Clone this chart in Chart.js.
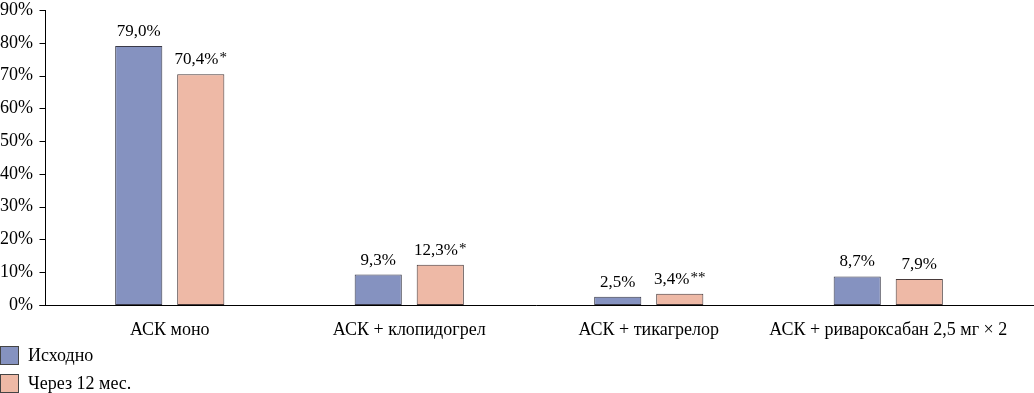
<!DOCTYPE html>
<html>
<head>
<meta charset="utf-8">
<script src="https://cdn.jsdelivr.net/npm/chart.js@4"></script>
<style>
  body { margin: 0; background: #fff; font-family: "Liberation Serif", serif; }
  #wrap { position: relative; width: 1034px; height: 393px; }
  #legend { position: absolute; left: 0; top: 341px; font-size: 18px; color: #000; }
  .item { display: flex; align-items: center; height: 28px; }
  .box { width: 17px; height: 17px; border: 1px solid #444; margin-right: 9px; }
</style>
</head>
<body>
<div id="wrap">
  <canvas id="chart" width="1034" height="345"></canvas>
  <div id="legend"></div>
</div>
<script>
const categories = ['АСК моно', 'АСК + клопидогрел', 'АСК + тикагрелор', 'АСК + ривароксабан 2,5 мг × 2'];
const seriesNames = ['Исходно', 'Через 12 мес.'];
const baseline = [79.0, 9.3, 2.5, 8.7];
const after12 = [70.4, 12.3, 3.4, 7.9];
const baselineMarks = ['', '', '', ''];
const after12Marks = ['*', '*', '**', ''];
const colors = ['#8592c0', '#eeb9a6'];

const fmt = v => v.toFixed(1).replace('.', ',') + '%';

// axis lines sit a few px left of the plot, like in the source figure
const axisLines = {
    id: 'axisLines',
    afterDraw(chart) {
        const { ctx, chartArea } = chart;
        const y = chart.scales.y;
        const ax = Math.round(chartArea.left - 5) + 0.5;
        const by = Math.round(chartArea.bottom) + 0.5;
        ctx.save();
        ctx.strokeStyle = '#000';
        ctx.lineWidth = 1;
        ctx.beginPath();
        ctx.moveTo(ax, chartArea.top);
        ctx.lineTo(ax, by);
        y.ticks.forEach(t => {
            const ty = Math.round(y.getPixelForValue(t.value)) + 0.5;
            ctx.moveTo(ax - 6, ty);
            ctx.lineTo(ax, ty);
        });
        ctx.moveTo(ax - 6, by);
        ctx.lineTo(chart.width, by);
        ctx.stroke();
        ctx.restore();
    }
};

const valueLabels = {
    id: 'valueLabels',
    afterDatasetsDraw(chart) {
        const ctx = chart.ctx;
        ctx.save();
        ctx.fillStyle = '#000';
        ctx.textBaseline = 'alphabetic';
        ctx.textAlign = 'left';
        chart.data.datasets.forEach((ds, i) => {
            chart.getDatasetMeta(i).data.forEach((bar, j) => {
                const txt = fmt(ds.data[j]);
                const mark = ds.marks[j];
                ctx.font = '17px "Liberation Serif"';
                const w = ctx.measureText(txt).width;
                ctx.font = '15px "Liberation Serif"';
                const mw = mark ? ctx.measureText(mark).width + 1 : 0;
                const x0 = bar.x - (w + mw) / 2;
                ctx.font = '17px "Liberation Serif"';
                ctx.fillText(txt, x0, bar.y - 10);
                if (mark) {
                    ctx.font = '15px "Liberation Serif"';
                    ctx.fillText(mark, x0 + w + 1, bar.y - 12);
                }
            });
        });
        ctx.restore();
    }
};

const chart = new Chart(document.getElementById('chart'), {
    type: 'bar',
    data: {
        labels: categories,
        datasets: [
            { label: seriesNames[0], data: baseline, marks: baselineMarks,
              backgroundColor: colors[0], borderColor: '#3a3a48', borderWidth: 1, borderSkipped: false },
            { label: seriesNames[1], data: after12, marks: after12Marks,
              backgroundColor: colors[1], borderColor: '#483a3a', borderWidth: 1, borderSkipped: false }
        ]
    },
    options: {
        responsive: false,
        animation: false,
        categoryPercentage: 0.518,
        barPercentage: 0.76,
        layout: { padding: { top: 0, right: 26, left: 0, bottom: 0 } },
        plugins: {
            legend: { display: false },
            tooltip: { enabled: false }
        },
        scales: {
            x: {
                grid: { display: false, drawTicks: false },
                border: { display: false },
                ticks: { color: '#000', font: { family: 'Liberation Serif', size: 18 },
                    padding: 14, maxRotation: 0, autoSkip: false },
                afterFit(scale) { scale.height = 40; scale.paddingLeft = 0; scale.paddingRight = 0; }
            },
            y: {
                min: 0, max: 90,
                ticks: { stepSize: 10, color: '#000', padding: 5,
                    font: { family: 'Liberation Serif', size: 18 },
                    callback: v => v + '%' },
                grid: { display: false, drawTicks: true, tickLength: 12 },
                border: { display: false },
                afterFit(scale) { scale.width = 50; scale.paddingTop = 10; scale.paddingBottom = 0; }
            }
        }
    },
    plugins: [valueLabels, axisLines]
});

const legend = document.getElementById('legend');
chart.data.datasets.forEach(ds => {
    const item = document.createElement('div');
    item.className = 'item';
    item.innerHTML = '<span class="box" style="background:' + ds.backgroundColor + '"></span>' + ds.label;
    legend.appendChild(item);
});
</script>
</body>
</html>
